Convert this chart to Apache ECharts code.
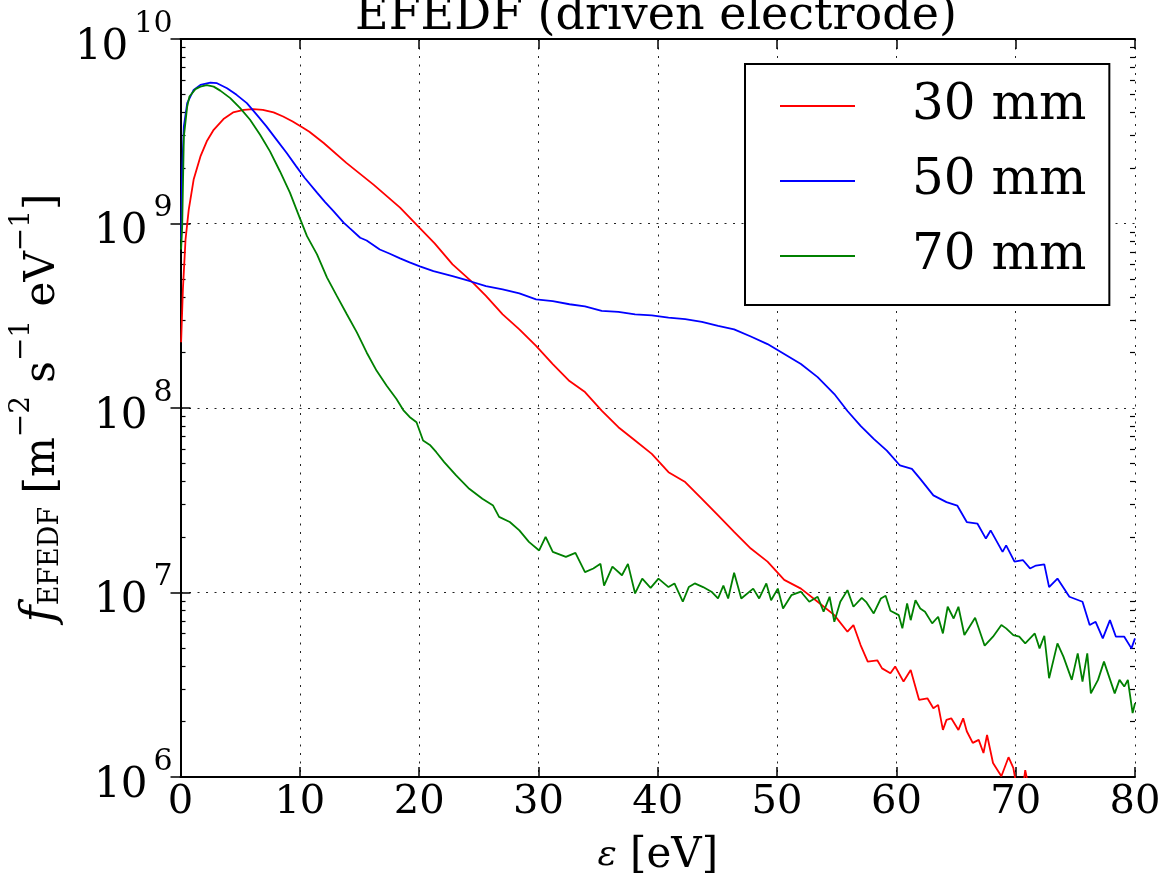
<!DOCTYPE html>
<html><head><meta charset="utf-8">
<script src="https://cdn.jsdelivr.net/npm/echarts@6/dist/echarts.min.js"></script>
<style>html,body{margin:0;padding:0;background:#fff}#c{width:1165px;height:882px}</style>
</head><body><div id="c"></div>
<script>
const seriesNames = ['30 mm', '50 mm', '70 mm'];
const seriesColors = ['#ff0000', '#0000ff', '#008000'];

// [energy eV, f_EFEDF]
const red30 = [[0.05,2.27e8],[0.2,4.40e8],[0.42,8.19e8],[0.69,1.19e9],[1.1,1.73e9],[1.67,2.31e9],[2.2,2.79e9],[2.78,3.22e9],[3.6,3.68e9],[4.4,4.00e9],[5.3,4.13e9],[6.1,4.17e9],[6.9,4.13e9],[7.8,4.00e9],[8.6,3.80e9],[9.4,3.57e9],[10.3,3.29e9],[10.8,3.14e9],[12,2.73e9],[13.9,2.13e9],[16.2,1.62e9],[18.4,1.22e9],[20.06,9.43e8],[21.3,7.80e8],[22.8,6.00e8],[24.5,4.78e8],[25.6,4.05e8],[27,3.22e8],[28.4,2.67e8],[29.8,2.17e8],[31.2,1.73e8],[32.6,1.40e8],[33.9,1.22e8],[35.3,9.67e7],[36.7,7.87e7],[38.1,6.66e7],[39.5,5.64e7],[40.9,4.49e7],[42.3,3.97e7],[43.7,3.22e7],[45.06,2.62e7],[46.4,2.13e7],[47.8,1.73e7],[49.2,1.47e7],[50.6,1.17e7],[52,1.05e7],[53.4,8.91e6],[54.8,7.54e6],[55.9,6.13e6],[56.4,6.66e6],[57,5.19e6],[57.6,4.22e6],[58.4,4.29e6],[58.8,3.88e6],[59.5,3.65e6],[59.9,3.97e6],[60.6,3.29e6],[61.2,3.80e6],[61.9,2.62e6],[62.6,2.67e6],[63.1,2.36e6],[63.5,2.46e6],[63.9,1.80e6],[64.2,2.04e6],[64.6,2.08e6],[65.2,1.80e6],[65.6,2.08e6],[65.9,1.77e6],[66.4,1.53e6],[66.9,1.59e6],[67.3,1.35e6],[67.6,1.69e6],[68.1,1.19e6],[68.8,1.01e6],[69.4,1.28e6],[69.8,1.12e6],[70.1,8.72e5],[70.5,7.70e5],[70.8,1.09e6],[71.1,8.72e5],[71.5,6.80e5],[72,5.30e5]];

const blue50 = [[0.05,8.19e8],[0.14,1.96e9],[0.28,3.36e9],[0.56,4.49e9],[1.1,5.30e9],[1.67,5.64e9],[2.5,5.80e9],[3.06,5.76e9],[3.9,5.41e9],[4.7,4.98e9],[5.56,4.49e9],[6.4,3.88e9],[7.2,3.36e9],[8.06,2.84e9],[8.9,2.41e9],[9.7,2.04e9],[10.4,1.77e9],[11.44,1.47e9],[12.1,1.31e9],[12.8,1.17e9],[13.67,1.01e9],[14.2,9.40e8],[15.06,8.37e8],[15.6,8.09e8],[16.7,7.23e8],[17.5,6.88e8],[18.4,6.47e8],[19.2,6.15e8],[20.06,5.86e8],[21.2,5.52e8],[22.8,5.19e8],[24.2,4.88e8],[25.6,4.58e8],[27,4.40e8],[28.4,4.18e8],[29.8,3.88e8],[31.2,3.80e8],[32.6,3.65e8],[33.9,3.55e8],[35.3,3.36e8],[36.7,3.32e8],[38.1,3.22e8],[39.5,3.18e8],[40.9,3.09e8],[42.3,3.03e8],[43.7,2.93e8],[45.06,2.79e8],[46.4,2.67e8],[47.8,2.44e8],[49.2,2.22e8],[50.6,1.96e8],[52,1.73e8],[53.4,1.47e8],[54.8,1.19e8],[55.9,9.63e7],[57,8.00e7],[58.1,6.80e7],[59.2,5.88e7],[60.3,4.88e7],[61.3,4.68e7],[62,4.13e7],[63.1,3.36e7],[64.2,3.09e7],[65.1,2.96e7],[65.9,2.41e7],[66.8,2.36e7],[67.5,1.96e7],[67.9,2.17e7],[68.9,1.66e7],[69.2,1.80e7],[69.9,1.47e7],[70.6,1.50e7],[71.2,1.35e7],[71.7,1.40e7],[72.4,1.42e7],[72.8,1.07e7],[73.5,1.19e7],[74.5,9.48e6],[75.6,8.91e6],[76.2,6.66e6],[76.7,6.94e6],[77.3,5.64e6],[77.9,7.08e6],[78.4,5.76e6],[79.1,5.76e6],[79.7,4.98e6],[80,5.64e6]];

const green70 = [[0.05,7.23e8],[0.14,9.67e8],[0.28,2.96e9],[0.56,4.31e9],[0.75,4.88e9],[1.25,5.35e9],[1.67,5.52e9],[2.2,5.62e9],[2.78,5.52e9],[3.33,5.25e9],[4.17,4.78e9],[5,4.22e9],[5.83,3.65e9],[6.67,3.03e9],[7.5,2.46e9],[8.33,1.92e9],[9.17,1.47e9],[10,1.07e9],[10.6,8.54e8],[11.44,6.80e8],[12.28,5.09e8],[13.1,4.05e8],[13.94,3.22e8],[14.78,2.57e8],[15.6,2.00e8],[16.44,1.59e8],[17.28,1.32e8],[18.1,1.12e8],[18.67,9.75e7],[19.2,8.94e7],[19.78,8.37e7],[20.33,6.66e7],[20.9,6.31e7],[21.44,5.76e7],[22.1,5.09e7],[23.1,4.31e7],[24.2,3.65e7],[25.3,3.22e7],[26.2,2.96e7],[26.7,2.57e7],[27.6,2.41e7],[28.4,2.17e7],[29.2,1.88e7],[30.06,1.69e7],[30.6,2.00e7],[31.2,1.66e7],[32.3,1.56e7],[33.1,1.64e7],[33.9,1.29e7],[34.6,1.35e7],[35.2,1.43e7],[35.5,1.09e7],[36.2,1.38e7],[37,1.24e7],[37.5,1.43e7],[38.1,9.88e6],[38.7,1.19e7],[39.4,1.06e7],[40.06,1.19e7],[40.9,1.07e7],[41.4,1.12e7],[42.1,8.91e6],[42.6,1.07e7],[43.1,1.12e7],[43.8,1.07e7],[44.5,1.01e7],[45.05,9.28e6],[45.5,1.09e7],[45.9,9.28e6],[46.4,1.28e7],[47,9.28e6],[48,1.05e7],[48.5,9.28e6],[49.1,1.12e7],[49.5,9.08e6],[50.06,1.05e7],[50.5,8.19e6],[51.2,9.67e6],[52,1.01e7],[52.7,8.91e6],[53.4,9.48e6],[53.9,7.87e6],[54.4,9.48e6],[54.8,6.94e6],[55.3,8.91e6],[55.9,1.03e7],[56.4,8.37e6],[57.1,9.36e6],[57.5,8.83e6],[58.1,7.70e6],[58.7,9.28e6],[59.1,9.60e6],[59.5,7.96e6],[60.2,7.54e6],[60.5,6.39e6],[60.9,8.72e6],[61.2,7.08e6],[61.6,9.08e6],[62,8.19e6],[62.4,7.87e6],[63,6.80e6],[63.5,7.39e6],[63.9,6.00e6],[64.3,8.37e6],[64.8,7.23e6],[65.2,8.37e6],[65.7,5.88e6],[66.6,7.30e6],[67.4,5.15e6],[68.1,5.76e6],[68.8,6.66e6],[69.2,6.39e6],[69.8,5.88e6],[70.3,5.76e6],[70.8,5.30e6],[71.6,6.00e6],[72,4.98e6],[72.4,5.83e6],[72.8,3.43e6],[73.5,5.30e6],[74,4.49e6],[74.7,3.36e6],[75.2,4.68e6],[75.6,3.29e6],[76,4.68e6],[76.3,2.84e6],[76.9,3.36e6],[77.4,4.22e6],[78.3,2.84e6],[78.7,3.36e6],[79.1,3.09e6],[79.4,3.36e6],[79.8,2.22e6],[80,2.51e6]];

const xMin = 0, xMax = 80, xStep = 10;
const yMajor = [1e6, 1e7, 1e8, 1e9, 1e10];
const yMajorExp = ['6', '7', '8', '9', '10'];
const yMinor = [2e6,3e6,4e6,5e6,6e6,7e6,8e6,9e6,2e7,3e7,4e7,5e7,6e7,7e7,8e7,9e7,2e8,3e8,4e8,5e8,6e8,7e8,8e8,9e8,2e9,3e9,4e9,5e9,6e9,7e9,8e9,9e9];
const titleText = 'EFEDF (driven electrode)';

const FONT = 'DejaVu Serif';
const chart = echarts.init(document.getElementById('c'), null, { renderer: 'canvas' });
const dotted = { color: '#222', width: 1, type: [2, 6.5] };
const axisLine = { show: true, lineStyle: { color: '#000', width: 2 } };
const majorTick = { show: true, inside: true, length: 10, lineStyle: { color: '#000', width: 1.5 } };
const minorTick = { show: true, inside: true, length: 5, customValues: yMinor, lineStyle: { color: '#000', width: 1.2 } };

function yLabel(v) {
  const k = yMajor.findIndex(t => Math.abs(t - v) / t < 1e-6);
  return k < 0 ? '' : '{b|10}{s|' + yMajorExp[k] + '}';
}

const option = {
  animation: false,
  backgroundColor: '#fff',
  color: seriesColors,
  title: {
    text: titleText, left: 656, top: -6, padding: 0, textAlign: 'center',
    textStyle: { fontFamily: FONT, fontWeight: 'normal', fontSize: 46, color: '#000' }
  },
  legend: {
    orient: 'vertical', left: 745, top: 64, data: seriesNames,
    icon: 'rect', itemWidth: 75, itemHeight: 2, itemGap: 25,
    padding: [17, 23, 24, 35], borderColor: '#000', borderWidth: 2, backgroundColor: '#fff',
    textStyle: { fontFamily: FONT, fontSize: 50, color: '#000', lineHeight: 50, padding: [0, 0, 0, 52] }
  },
  grid: { left: 176, top: 39, width: 959, height: 740, show: false },
  xAxis: [
    {
      type: 'value', min: xMin, max: xMax, interval: xStep, position: 'bottom',
      axisLine: axisLine, axisTick: majorTick,
      axisLabel: { fontFamily: FONT, fontSize: 40, color: '#000', margin: 6 },
      splitLine: { show: true, lineStyle: dotted },
      name: '{e|ε} [eV]', nameLocation: 'middle', nameGap: 58,
      nameTextStyle: { fontFamily: FONT, fontSize: 42, color: '#000',
        rich: { e: { fontFamily: FONT, fontSize: 36, fontStyle: 'italic', color: '#000' } } }
    },
    {
      type: 'value', min: xMin, max: xMax, interval: xStep, position: 'top',
      axisLine: axisLine, axisTick: majorTick, axisLabel: { show: false }, splitLine: { show: false }
    }
  ],
  yAxis: [
    {
      type: 'log', logBase: 10, min: yMajor[0], max: yMajor[yMajor.length - 1], position: 'left',
      axisLine: axisLine, axisTick: majorTick,
      axisLabel: {
        margin: 8, formatter: yLabel,
        rich: {
          b: { fontFamily: FONT, fontSize: 42, color: '#000', lineHeight: 60, verticalAlign: 'bottom' },
          s: { fontFamily: FONT, fontSize: 30, color: '#000', lineHeight: 26, verticalAlign: 'top', padding: [0, 0, 0, 6] }
        }
      },
      splitLine: { show: true, lineStyle: dotted },
      name: '{fi|f}{sub|EFEDF}{b| [m}{sup|−2}{b| s}{sup|−1}{b| eV}{sup|−1}{b|]}',
      nameLocation: 'middle', nameRotate: 90, nameGap: 112,
      nameTextStyle: {
        rich: {
          fi: { fontFamily: FONT, fontSize: 46, fontStyle: 'italic', color: '#000', lineHeight: 56, verticalAlign: 'bottom' },
          b: { fontFamily: FONT, fontSize: 42, color: '#000', lineHeight: 56, verticalAlign: 'bottom' },
          sup: { fontFamily: FONT, fontSize: 28, color: '#000', lineHeight: 26, verticalAlign: 'top' },
          sub: { fontFamily: FONT, fontSize: 27, color: '#000', lineHeight: 34, verticalAlign: 'bottom' }
        }
      }
    },
    {
      type: 'log', logBase: 10, min: yMajor[0], max: yMajor[yMajor.length - 1], position: 'right',
      axisLine: axisLine, axisTick: majorTick, axisLabel: { show: false }, splitLine: { show: false }
    },
    {
      type: 'log', logBase: 10, min: yMajor[0], max: yMajor[yMajor.length - 1], position: 'left',
      axisLine: { show: false }, axisTick: minorTick, axisLabel: { show: false }, splitLine: { show: false }
    },
    {
      type: 'log', logBase: 10, min: yMajor[0], max: yMajor[yMajor.length - 1], position: 'right',
      axisLine: { show: false }, axisTick: minorTick, axisLabel: { show: false }, splitLine: { show: false }
    }
  ],
  series: [red30, blue50, green70].map((d, i) => ({
    name: seriesNames[i], type: 'line', data: d, xAxisIndex: 0, yAxisIndex: 0,
    showSymbol: false, symbol: 'none', clip: true,
    lineStyle: { color: seriesColors[i], width: 1.8 },
    itemStyle: { color: seriesColors[i] }
  }))
};
chart.setOption(option);
</script>
</body></html>
